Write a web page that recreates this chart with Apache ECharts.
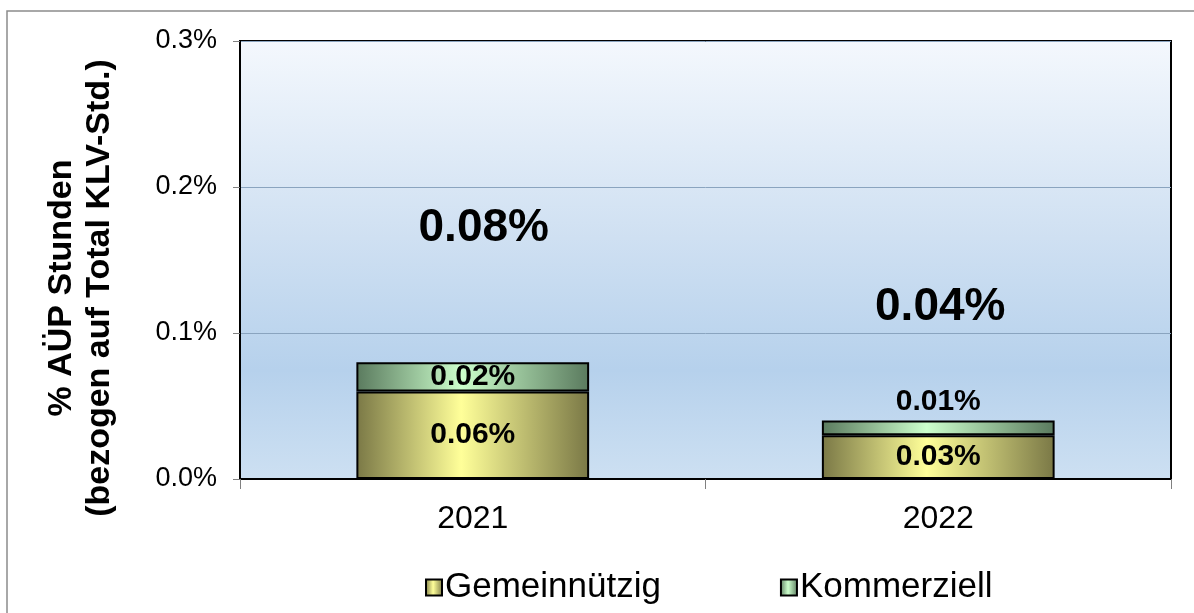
<!DOCTYPE html>
<html>
<head>
<meta charset="utf-8">
<script src="https://cdn.jsdelivr.net/npm/echarts@6/dist/echarts.min.js"></script>
<style>
  html, body { margin: 0; padding: 0; background: #fff; }
  #chart { width: 1194px; height: 613px; }
</style>
</head>
<body>
<div id="chart"></div>
<script>
const years = ["2021", "2022"];
const gemeinnuetzig = [0.06, 0.03];
const kommerziell = [0.02, 0.01];
const totals = [0.08, 0.04];
const yTicks = [0, 0.1, 0.2, 0.3];

const FONT = "Liberation Sans, Arial, sans-serif";

// horizontal "cylinder" look like the Excel bars
const shade = (edge, mid) => new echarts.graphic.LinearGradient(0, 0, 1, 0, [
  { offset: 0, color: edge },
  { offset: 0.45, color: mid },
  { offset: 1, color: edge },
]);

const chart = echarts.init(document.getElementById("chart"));

const barLabel = {
  show: true,
  position: "inside",
  color: "#000",
  fontFamily: FONT,
  fontWeight: "bold",
  fontSize: 30,
  formatter: (p) => p.value.toFixed(2) + "%",
};

chart.setOption({
  animation: false,
  textStyle: { fontFamily: FONT },
  graphic: [{
    type: "polyline",
    shape: { points: [[7, 700], [7, 11], [1300, 11]] },
    style: { stroke: "#8c8c8c", lineWidth: 1.5, fill: null },
    silent: true,
  }],
  grid: {
    left: 240, top: 41, width: 931, height: 438,
    show: true,
    borderColor: "#000",
    borderWidth: 2,
    backgroundColor: new echarts.graphic.LinearGradient(0, 0, 0, 1, [
      { offset: 0, color: "#f4f8fd" },
      { offset: 0.45, color: "#cfe0f2" },
      { offset: 0.75, color: "#b6d1ec" },
      { offset: 1, color: "#cde0f2" },
    ]),
  },
  legend: {
    data: ["Gemeinnützig", "Kommerziell"],
    top: 565,
    left: 420,
    icon: "rect",
    itemWidth: 16,
    itemHeight: 16,
    itemGap: 119,
    textStyle: { fontSize: 35, color: "#000", fontFamily: FONT, padding: [0, 0, 0, -2] },
  },
  xAxis: {
    type: "category",
    data: years,
    axisLine: { lineStyle: { color: "#000", width: 2 } },
    axisTick: { show: true, length: 10, lineStyle: { color: "#808080" } },
    axisLabel: { fontSize: 32, color: "#000", margin: 24 },
  },
  yAxis: {
    type: "value",
    min: yTicks[0],
    max: yTicks[yTicks.length - 1],
    interval: 0.1,
    name: "% AÜP Stunden\n(bezogen auf Total KLV-Std.)",
    nameLocation: "middle",
    nameGap: 121,
    nameTextStyle: {
      fontSize: 34, fontWeight: "bold", color: "#000", lineHeight: 38,
      padding: [0, 56, 0, 0],
    },
    axisLine: { show: true, lineStyle: { color: "#000", width: 2 } },
    axisTick: { show: true, length: 7, lineStyle: { color: "#808080" } },
    axisLabel: {
      fontSize: 27, color: "#000", margin: 23,
      formatter: (v) => v.toFixed(1) + "%",
    },
    splitLine: { lineStyle: { color: "#8aa4bf", width: 1 } },
  },
  series: [
    {
      name: "Gemeinnützig",
      type: "bar",
      stack: "aup",
      barWidth: "50%",
      data: gemeinnuetzig,
      itemStyle: { color: shade("#7a7846", "#ffff99"), borderColor: "#000", borderWidth: 2 },
      label: barLabel,
    },
    {
      name: "Kommerziell",
      type: "bar",
      stack: "aup",
      data: kommerziell.map((v, i) => ({
        value: v,
        label: i === 1 ? { position: "top", distance: 4 } : {},
      })),
      itemStyle: { color: shade("#5a7a5e", "#ccffcc"), borderColor: "#000", borderWidth: 2 },
      label: barLabel,
    },
    {
      name: "Total",
      type: "scatter",
      symbolSize: 0,
      silent: true,
      itemStyle: { opacity: 1 },
      data: totals.map((v, i) => ({
        value: [years[i], v],
        label: { offset: i === 0 ? [11, -134] : [2, -113] },
      })),
      label: {
        show: true,
        position: "inside",
        color: "#000",
        fontFamily: FONT,
        fontWeight: "bold",
        fontSize: 46,
        formatter: (p) => p.value[1].toFixed(2) + "%",
      },
    },
  ],
});
</script>
</body>
</html>
